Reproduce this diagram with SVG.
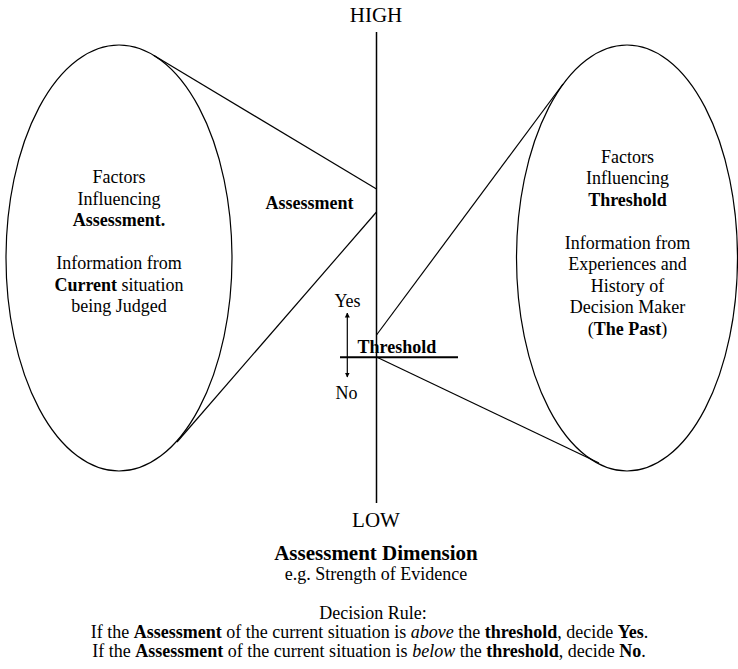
<svg xmlns="http://www.w3.org/2000/svg" width="738" height="669" viewBox="0 0 738 669">
  <defs>
    <marker id="head" viewBox="0 0 10 10" refX="9" refY="5" markerWidth="5" markerHeight="7" orient="auto-start-reverse" markerUnits="userSpaceOnUse">
      <path d="M0,0 L10,5 L0,10 z" fill="#000"/>
    </marker>
  </defs>

  <rect width="738" height="669" fill="#fff"/>

  <!-- assessment axis -->
  <g id="axis">
    <line x1="376.5" y1="32" x2="376.5" y2="503" stroke="#000" stroke-width="1.5"/>
    <text font-family="Liberation Serif" font-size="21" text-anchor="middle" x="376" y="22">HIGH</text>
    <text font-family="Liberation Serif" font-size="21" text-anchor="middle" x="376" y="527">LOW</text>
    <text font-family="Liberation Serif" font-size="21" font-weight="bold" text-anchor="middle" x="376" y="560">Assessment Dimension</text>
    <text font-family="Liberation Serif" font-size="18" text-anchor="middle" x="376" y="580">e.g. Strength of Evidence</text>
  </g>

  <!-- left source: current situation -->
  <g id="assessment-factors">
    <ellipse cx="119" cy="258" rx="113" ry="213" fill="none" stroke="#000" stroke-width="1.2"/>
    <text font-family="Liberation Serif" font-size="18" text-anchor="middle" x="119" y="183">Factors</text>
    <text font-family="Liberation Serif" font-size="18" text-anchor="middle" x="119" y="204.5">Influencing</text>
    <text font-family="Liberation Serif" font-size="18" font-weight="bold" text-anchor="middle" x="119" y="226">Assessment.</text>
    <text font-family="Liberation Serif" font-size="18" text-anchor="middle" x="119" y="269">Information from</text>
    <text font-family="Liberation Serif" font-size="18" text-anchor="middle" x="119" y="290.5"><tspan font-weight="bold">Current</tspan> situation</text>
    <text font-family="Liberation Serif" font-size="18" text-anchor="middle" x="119" y="312">being Judged</text>
  </g>

  <!-- right source: past experience -->
  <g id="threshold-factors">
    <ellipse cx="627" cy="258" rx="110.5" ry="213" fill="none" stroke="#000" stroke-width="1.2"/>
    <text font-family="Liberation Serif" font-size="18" text-anchor="middle" x="627.5" y="162.5">Factors</text>
    <text font-family="Liberation Serif" font-size="18" text-anchor="middle" x="627.5" y="184">Influencing</text>
    <text font-family="Liberation Serif" font-size="18" font-weight="bold" text-anchor="middle" x="627.5" y="205.5">Threshold</text>
    <text font-family="Liberation Serif" font-size="18" text-anchor="middle" x="627.5" y="248.5">Information from</text>
    <text font-family="Liberation Serif" font-size="18" text-anchor="middle" x="627.5" y="270">Experiences and</text>
    <text font-family="Liberation Serif" font-size="18" text-anchor="middle" x="627.5" y="291.5">History of</text>
    <text font-family="Liberation Serif" font-size="18" text-anchor="middle" x="627.5" y="313">Decision Maker</text>
    <text font-family="Liberation Serif" font-size="18" text-anchor="middle" x="627.5" y="334.5">(<tspan font-weight="bold">The Past</tspan>)</text>
  </g>

  <!-- assessment point on the axis -->
  <g id="assessment-point">
    <text font-family="Liberation Serif" font-size="18" font-weight="bold" x="265.5" y="208.5">Assessment</text>
  </g>

  <!-- threshold marker with decision directions -->
  <g id="threshold-point">
    <line x1="340" y1="357.3" x2="458" y2="357.3" stroke="#000" stroke-width="2"/>
    <text font-family="Liberation Serif" font-size="18" font-weight="bold" x="357.5" y="353">Threshold</text>
    <g stroke="#000" stroke-width="1.2">
      <line x1="347.3" y1="345" x2="347.3" y2="313" marker-end="url(#head)"/>
      <line x1="347.3" y1="345" x2="347.3" y2="377" marker-end="url(#head)"/>
    </g>
    <text font-family="Liberation Serif" font-size="18" text-anchor="middle" x="347.5" y="307">Yes</text>
    <text font-family="Liberation Serif" font-size="18" text-anchor="middle" x="346.5" y="398.5">No</text>
  </g>

  <!-- cone edges joining each source to its point on the axis -->
  <g id="connectors" stroke="#000" stroke-width="1.2" fill="none">
    <line x1="154" y1="55.5" x2="376.5" y2="189"/>
    <line x1="177" y1="442" x2="376.5" y2="212"/>
    <line x1="563" y1="84" x2="376.5" y2="335"/>
    <line x1="599" y1="463" x2="376.5" y2="357"/>
  </g>

  <!-- decision rule -->
  <g id="decision-rule">
    <text font-family="Liberation Serif" font-size="18" text-anchor="middle" x="373" y="619">Decision Rule:</text>
    <text font-family="Liberation Serif" font-size="18" text-anchor="middle" x="369.5" y="638">If the <tspan font-weight="bold">Assessment</tspan> of the current situation is <tspan font-style="italic">above</tspan> the <tspan font-weight="bold">threshold</tspan>, decide <tspan font-weight="bold">Yes</tspan>.</text>
    <text font-family="Liberation Serif" font-size="18" text-anchor="middle" x="369" y="657">If the <tspan font-weight="bold">Assessment</tspan> of the current situation is <tspan font-style="italic">below</tspan> the <tspan font-weight="bold">threshold</tspan>, decide <tspan font-weight="bold">No</tspan>.</text>
  </g>
</svg>
